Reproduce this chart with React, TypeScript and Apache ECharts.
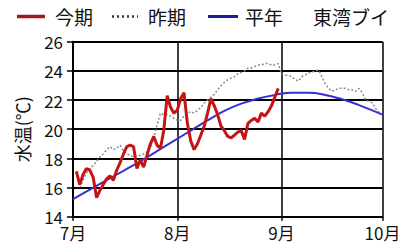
import React, { useEffect, useRef } from "react";
import * as echarts from "echarts";

// 今期 (this period): daily values starting 7/2
const thisStart = [2024, 6, 2];
const thisValues = [
  17.1, 16.2, 16.9, 17.3, 17.2, 16.7, 15.3, 15.8, 16.2, 16.6,
  16.8, 16.5, 17.2, 17.7, 18.3, 18.8, 18.9, 18.8, 17.3, 17.9,
  17.4, 18.2, 19.0, 19.5, 18.9, 18.7, 19.95, 22.3, 21.5, 21.1,
  21.3, 22.1, 22.5, 20.4, 19.2, 18.6, 19.0, 19.6, 20.2, 21.1,
  22.1, 21.6, 21.0, 20.2, 19.9, 19.5, 19.4, 19.6, 19.8, 19.9,
  19.3, 20.4, 20.6, 20.75, 20.5, 21.1, 20.9, 21.2, 21.6, 22.2,
  22.8,
];

// 昨期 (last period): daily values starting 7/3
const lastStart = [2024, 6, 3];
const lastValues = [
  16.0, 16.5, 17.0, 17.3, 17.5, 17.8, 18.1, 18.3, 18.6, 18.8,
  18.6, 18.7, 18.9, 18.5, 18.3, 18.2, 18.1, 18.2, 18.2, 18.3,
  18.45, 18.7, 19.4, 20.3, 21.1, 21.0, 21.0, 20.9, 20.75, 20.6,
  20.6, 20.9, 21.1, 21.2, 21.1, 21.3, 21.5, 21.8, 22.0, 22.2,
  22.4, 22.7, 23.0, 23.2, 23.4, 23.5, 23.6, 23.8, 23.9, 24.0,
  24.2, 24.2, 24.3, 24.4, 24.4, 24.5, 24.5, 24.4, 24.4, 24.5,
  23.8, 23.7, 23.7, 23.6, 23.4, 23.3, 23.6, 23.7, 23.85, 23.9,
  24.0, 24.05, 23.6, 23.1, 22.8, 22.6, 22.7, 22.8, 22.8, 22.8,
  22.7, 22.7, 22.6, 22.8, 22.5, 22.0, 21.9, 21.8, 21.4, 21.2,
];

// 平年 (normal): [day offset from 7/1, value]
const normalDays = [0, 5, 10, 15, 20, 25, 30, 35, 40, 45, 50, 55, 60, 65, 70, 75, 80, 85, 92];
const normalValues = [
  15.2, 15.85, 16.5, 17.15, 17.8, 18.5, 19.2, 19.9, 20.6, 21.25,
  21.75, 22.1, 22.35, 22.5, 22.5, 22.35, 22.05, 21.65, 21.0,
];

const yTicks = [14, 16, 18, 20, 22, 24, 26];
const legendNames = ["今期", "昨期", "平年"];
const stationName = "東湾ブイ";
const yAxisName = "水温(℃)";

const FONT = '"Noto Sans CJK JP", "Noto Sans", sans-serif';

function dayTime(y: number, m: number, d: number) {
  return new Date(y, m, d).getTime();
}

export default function App() {
  const ref = useRef<HTMLDivElement>(null);
  useEffect(() => {
    if (!ref.current) return;
    const chart = echarts.init(ref.current, undefined, { renderer: "svg" });
    const thisData = thisValues.map((v, i) => [
      dayTime(thisStart[0], thisStart[1], thisStart[2] + i),
      v,
    ]);
    const lastData = lastValues.map((v, i) => [
      dayTime(lastStart[0], lastStart[1], lastStart[2] + i),
      v,
    ]);
    const normalData = normalValues.map((v, i) => [
      dayTime(2024, 6, 1 + normalDays[i]),
      v,
    ]);
    const black = "#000";
    chart.setOption({
      animation: false,
      textStyle: { fontFamily: FONT },
      grid: { left: 73, right: 28.5, top: 41.7, bottom: 30.3, containLabel: false },
      xAxis: {
        type: "time",
        min: dayTime(2024, 6, 1),
        max: dayTime(2024, 9, 1),
        splitNumber: 3,
        axisLine: { show: true, lineStyle: { color: black, width: 2 } },
        axisTick: { show: true, length: 4, lineStyle: { color: black, width: 1.5 } },
        axisLabel: {
          color: "#111",
          fontSize: 17,
          margin: 7,
          fontFamily: FONT,
          formatter: (val: number) => new Date(val).getMonth() + 1 + "月",
          showMinLabel: true,
          showMaxLabel: true,
        },
        splitLine: { show: true, lineStyle: { color: black, width: 1.5 } },
      },
      yAxis: {
        type: "value",
        min: yTicks[0],
        max: yTicks[yTicks.length - 1],
        interval: 2,
        name: yAxisName,
        nameLocation: "middle",
        nameRotate: 90,
        nameGap: 42,
        nameTextStyle: { fontSize: 18, color: "#111", fontFamily: FONT },
        axisLine: { show: true, lineStyle: { color: black, width: 2 } },
        axisTick: { show: true, length: 6, lineStyle: { color: black, width: 1.5 } },
        axisLabel: { color: "#111", fontSize: 17, margin: 10, fontFamily: FONT },
        splitLine: { show: true, lineStyle: { color: black, width: 1.8 } },
      },
      series: [
        {
          name: legendNames[1],
          type: "line",
          data: lastData,
          symbol: "none",
          lineStyle: { color: "#8a8a8a", width: 1.5, type: [2, 2] },
          z: 2,
        },
        {
          name: legendNames[2],
          type: "line",
          data: normalData,
          symbol: "none",
          smooth: true,
          lineStyle: { color: "#3232d2", width: 2 },
          z: 3,
        },
        {
          name: legendNames[0],
          type: "line",
          data: thisData,
          symbol: "none",
          lineStyle: { color: "#c41414", width: 3 },
          z: 4,
        },
      ],
      graphic: [
        { type: "line", shape: { x1: 17, y1: 16.5, x2: 45, y2: 16.5 }, style: { stroke: "#a01818", lineWidth: 3.5 } },
        { type: "text", x: 55, y: 16, style: { text: legendNames[0], fontSize: 19, fontFamily: FONT, fill: "#111", verticalAlign: "middle" } },
        { type: "line", shape: { x1: 112, y1: 16.5, x2: 138, y2: 16.5 }, style: { stroke: "#333", lineWidth: 2.5, lineDash: [2, 3] } },
        { type: "text", x: 148, y: 16, style: { text: legendNames[1], fontSize: 19, fontFamily: FONT, fill: "#111", verticalAlign: "middle" } },
        { type: "line", shape: { x1: 208, y1: 16.5, x2: 238, y2: 16.5 }, style: { stroke: "#1c1c9c", lineWidth: 3 } },
        { type: "text", x: 245, y: 16, style: { text: legendNames[2], fontSize: 19, fontFamily: FONT, fill: "#111", verticalAlign: "middle" } },
        { type: "text", x: 313, y: 16, style: { text: stationName, fontSize: 19, fontFamily: FONT, fill: "#111", verticalAlign: "middle" } },
      ],
    });
    return () => chart.dispose();
  }, []);
  return (
    <div
      ref={ref}
      style={{ position: "fixed", left: 0, top: 0, width: 411, height: 247, background: "#fff" }}
    />
  );
}
